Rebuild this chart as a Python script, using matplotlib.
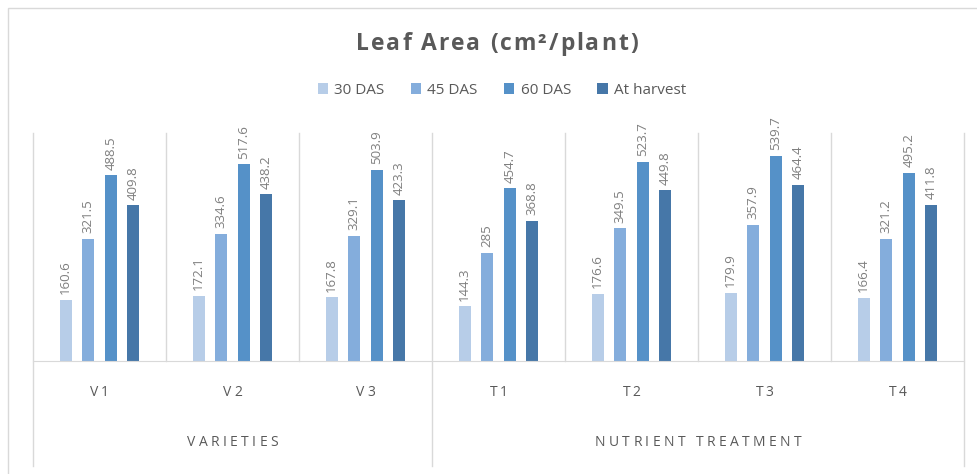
import numpy as np
import matplotlib.pyplot as plt
from matplotlib.patches import Rectangle

plt.rcParams['font.family'] = ['Open Sans', 'DejaVu Sans']

# Datos
categories = ['V1', 'V2', 'V3', 'T1', 'T2', 'T3', 'T4']
groups = ['VARIETIES', 'NUTRIENT TREATMENT']
group_sizes = [3, 4]
series = ['30 DAS', '45 DAS', '60 DAS', 'At harvest']
das30 = [160.6, 172.1, 167.8, 144.3, 176.6, 179.9, 166.4]
das45 = [321.5, 334.6, 329.1, 285, 349.5, 357.9, 321.2]
das60 = [488.5, 517.6, 503.9, 454.7, 523.7, 539.7, 495.2]
harvest = [409.8, 438.2, 423.3, 368.8, 449.8, 464.4, 411.8]
colors = ['#B7CDE8', '#84ADDC', '#5591C8', '#4677A8']

W, H = 978, 474
fig = plt.figure(figsize=(W / 100, H / 100), dpi=100)
renderer = fig.canvas.get_renderer()


# Texto con espaciado entre letras (coordenadas en píxeles, y desde arriba)
def spaced_text(xc, yc, s, spacing, **kw):
    def width(t):
        if not t:
            return 0.0
        tmp = fig.text(0, 0, t, **kw)
        w = tmp.get_window_extent(renderer).width
        tmp.remove()
        return w
    total = width(s) + (len(s) - 1) * spacing
    left = xc - total / 2
    for i, ch in enumerate(s):
        if ch == ' ':
            continue
        px = left + width(s[:i]) + i * spacing
        fig.text(px / W, (H - yc) / H, ch, ha='left', va='center', **kw)


# Marco del gráfico
fig.patches.append(Rectangle((8 / W, -0.1), 2, (H - 8) / H + 0.1, transform=fig.transFigure,
                             fill=False, edgecolor='#D9D9D9', lw=1))

x0, x1, yb, yt = 33, 964, 361, 133
ax = fig.add_axes([x0 / W, (H - yb) / H, (x1 - x0) / W, (yb - yt) / H])
ax.set_xlim(0, len(categories))
ax.set_ylim(0, 600)
for s in ['top', 'left', 'right']:
    ax.spines[s].set_visible(False)
ax.spines['bottom'].set_color('#D9D9D9')
ax.set_xticks([])
ax.set_yticks([])

x = np.arange(len(categories)) + 0.5
width = 0.09
step = 0.17
for i, (vals, col, name) in enumerate(zip([das30, das45, das60, harvest], colors, series)):
    pos = x + (i - 1.5) * step
    bars = ax.bar(pos, vals, width, color=col, label=name)
    for b, v in zip(bars, vals):
        ax.annotate(f'{v:g}', (b.get_x() + b.get_width() / 2, v), xytext=(0, 4),
                    textcoords='offset points', rotation=90, ha='center', va='bottom',
                    fontsize=9.5, color='#7F7F7F')

# Separadores
trans = ax.get_xaxis_transform()
ypx = lambda p: (yb - p) / (yb - yt)
major = [0] + list(np.cumsum(group_sizes))
for k in range(len(categories) + 1):
    bottom = ypx(466) if k in major else 0
    ax.plot([k, k], [bottom, 1], transform=trans, color='#D9D9D9', lw=1, clip_on=False)

# Etiquetas de categorías
cat_w = (x1 - x0) / len(categories)
for xi, c in zip(x, categories):
    spaced_text(x0 + xi * cat_w, 392, c, 2.5, fontsize=10, color='#595959')
start = 0
for g, n in zip(groups, group_sizes):
    spaced_text(x0 + (start + n / 2) * cat_w, 443, g, 3.4, fontsize=10, color='#595959')
    start += n

spaced_text(497, 44, 'Leaf Area (cm²/plant)', 2.0, fontsize=16.5, fontweight='bold',
            color='#595959')
fig.legend(loc='center', bbox_to_anchor=(0.513, (H - 90) / H), ncol=4, frameon=False,
           fontsize=11, labelcolor='#595959', handlelength=0.7, handleheight=0.7,
           columnspacing=1.7, handletextpad=0.4)

fig.savefig('out.png', dpi=100)
